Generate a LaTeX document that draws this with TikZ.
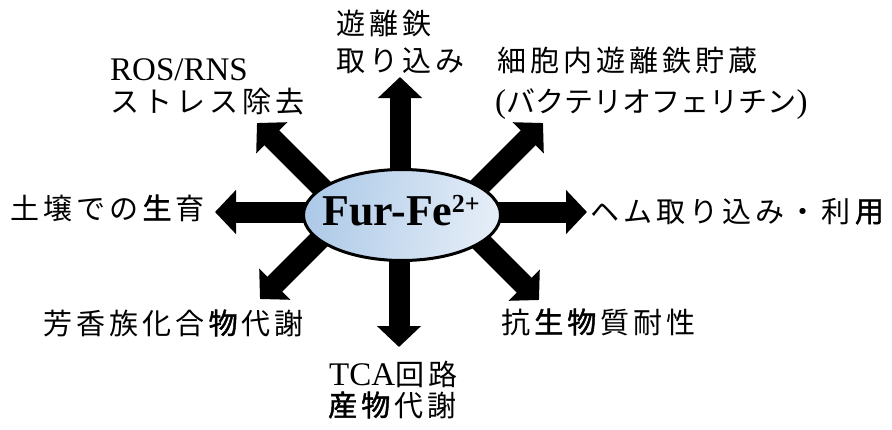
\documentclass[tikz,border=0pt]{standalone}
\usepackage{fontspec}
\setmainfont{Liberation Serif}
\newfontfamily\cjk[Scale=0.88,LetterSpace=14]{Noto Sans CJK JP}
\newfontfamily\cjkn[Scale=0.88]{Noto Sans CJK JP}
\newfontfamily\cjkbold[Scale=0.88,LetterSpace=14,FakeBold=1.6]{Noto Sans CJK JP}
\newcommand{\bjp}[1]{\kern4pt{\cjkbold #1}\kern4pt}
\usetikzlibrary{arrows.meta,shapes.geometric}
\definecolor{hubL}{RGB}{174,202,232}
\definecolor{hubR}{RGB}{228,237,247}
\tikzset{
  bigarrow/.style={line width=21pt,-{Triangle[width=43pt,length=21pt]}},
  hub/.style={ellipse,draw=black,line width=3pt,minimum width=197pt,minimum height=91pt,inner sep=0pt,left color=hubL,right color=hubR,shading angle=80},
  hubtext/.style={font=\fontsize{44}{48}\selectfont\bfseries,inner sep=0pt,anchor=base},
  lbl/.style={font=\fontsize{33}{36}\selectfont,inner sep=0pt,anchor=base west},
  topline/.style={lbl,text depth=0pt},
  lowline/.style={lbl,text height=21pt}
}
\begin{document}
\begin{tikzpicture}[x=1pt,y=-1pt]
\useasboundingbox (0,0) rectangle (892,429);
% arrow ends
\coordinate (upS) at (400,215);   \coordinate (upT) at (400,77);
\coordinate (dnS) at (399,215);   \coordinate (dnT) at (399,347);
\coordinate (lfS) at (402,212);   \coordinate (lfT) at (215,212);
\coordinate (rtS) at (402,212);   \coordinate (rtT) at (587,212);
\coordinate (ulS) at (337,203);   \coordinate (ulT) at (257,123);
\coordinate (urS) at (463,203);   \coordinate (urT) at (543,123);
\coordinate (llS) at (340,219);   \coordinate (llT) at (260,299);
\coordinate (lrS) at (459,220);   \coordinate (lrT) at (539,300);
\draw[bigarrow] (upS) -- (upT);
\draw[bigarrow] (dnS) -- (dnT);
\draw[bigarrow] (lfS) -- (lfT);
\draw[bigarrow] (rtS) -- (rtT);
\draw[bigarrow] (ulS) -- (ulT);
\draw[bigarrow] (urS) -- (urT);
\draw[bigarrow] (llS) -- (llT);
\draw[bigarrow] (lrS) -- (lrT);
% hub
\node[hub] (fur) at (402,215) {};
\node[hubtext] (furtext) at (401,225) {Fur-Fe\kern-0.5pt{\fontsize{26}{28}\selectfont\raisebox{13pt}{2+}}};
% labels
\node[topline] (up1) at (336,34) {\cjk 遊離鉄};
\node[lowline] (up2) at (336,71) {\cjk 取り込み};
\node[topline] (ul1) at (110,80) {ROS/RNS};
\node[lowline] (ul2) at (110,112) {\cjk ストレス除去};
\node[topline] (ur1) at (497,71) {\cjk 細胞内遊離鉄貯蔵};
\node[lowline] (ur2) at (495,112) {({\cjkn バクテリオフェリチン})};
\node[lbl] (lf) at (10,219) {\cjk 土壌での\bjp{生}育};
\node[lbl] (rt) at (590,222) {\cjk ヘム取り込み・利\bjp{用}};
\node[lbl] (ll) at (43,334) {\cjk 芳香族化合\bjp{物}代謝};
\node[lbl] (lr) at (501,333) {\cjk 抗\bjp{生物}質耐性};
\node[topline] (dn1) at (329,385) {TCA{\cjk 回路}};
\node[lowline] (dn2) at (324,416) {\cjk \bjp{産物}代謝};
\end{tikzpicture}
\end{document}
